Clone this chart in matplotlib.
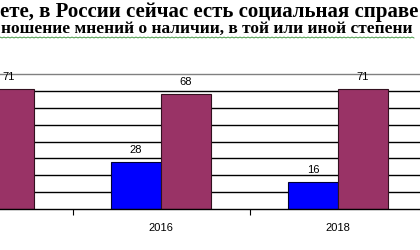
import numpy as np
import matplotlib
matplotlib.use("Agg")
import matplotlib.pyplot as plt

# data (first group's blue bar is off the left edge)
years = ["2014", "2016", "2018"]
blue_vals = [np.nan, 28, 16]
red_vals = [71, 68, 71]

title1 = "ете, в России сейчас есть социальная справе"
title2 = "ношение мнений о наличии, в той или иной степени"

fig = plt.figure(figsize=(4.2, 2.5), dpi=100)
ax = fig.add_axes([0, 41 / 250, 1, 135 / 250])

x = np.arange(len(years))
w = 0.283
ax.set_axisbelow(True)
b1 = ax.bar(x - w / 2, blue_vals, w, color="#0000ff", edgecolor="#000033", linewidth=0.8)
b2 = ax.bar(x + w / 2, red_vals, w, color="#993366", edgecolor="#33111f", linewidth=0.8)
ax.bar_label(b1, labels=["" if np.isnan(v) else "%d" % v for v in blue_vals],
             padding=5, fontsize=8, family="Liberation Sans")
ax.bar_label(b2, padding=5, fontsize=8, family="Liberation Sans")

ax.set_yticks(range(10, 80, 10))
ax.yaxis.grid(True, color="black", linewidth=1)
ax.tick_params(axis="y", left=False, labelleft=False)

ax.set_xticks(x)
ax.set_xticklabels(years, fontsize=8, family="Liberation Sans")
ax.set_xticks(x + 0.5, minor=True)
ax.tick_params(axis="x", which="major", length=0, pad=10)
ax.tick_params(axis="x", which="minor", length=4, width=0.8, color="black")

# limits last, set_xticks would widen them
ax.set_ylim(0, 80)
ax.set_xlim(16 / 177, 436 / 177)

ax.spines["left"].set_visible(False)
ax.spines["right"].set_visible(False)
ax.spines["top"].set_color("#808080")
ax.spines["top"].set_linewidth(1)
ax.spines["bottom"].set_color("black")
ax.spines["bottom"].set_linewidth(1)

fig.text(0, 1 - 17 / 250, title1, fontsize=15, fontweight="bold",
         family="Liberation Serif", va="baseline", ha="left")
fig.text(0.002, 1 - 33 / 250, title2, fontsize=12.5, fontweight="bold",
         family="Liberation Serif", va="baseline", ha="left")

# spell-check squiggle under the second line
sx = np.arange(0, 416, 2)
sy = 1 - (37 + (np.arange(len(sx)) % 2)) / 250
fig.add_artist(plt.Line2D(sx / 420, sy, color="#2e8b2e", linewidth=0.6))

fig.savefig("out.png", dpi=100)
